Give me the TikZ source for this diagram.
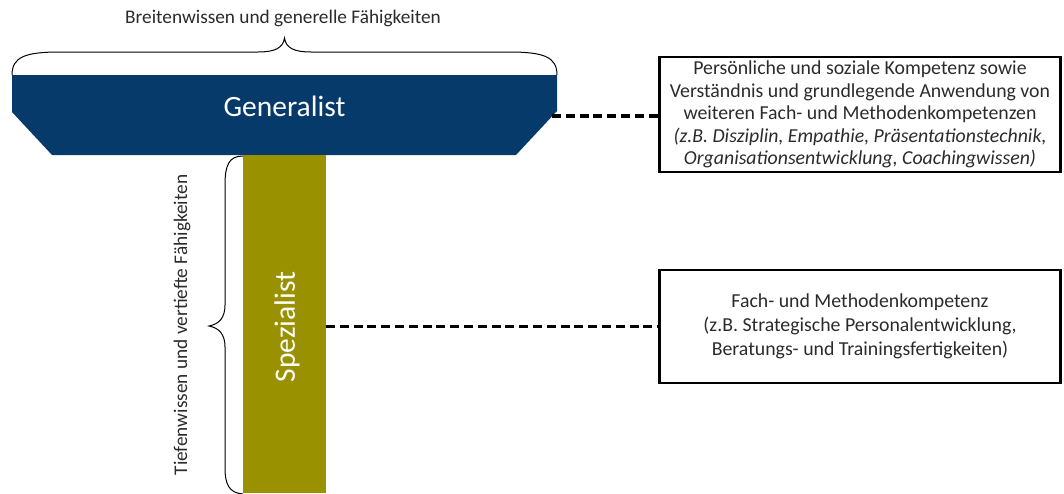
\documentclass[tikz,border=0pt]{standalone}
\usepackage{fontspec}
\setmainfont{Carlito}
\usetikzlibrary{calc}
\definecolor{navy}{HTML}{053A6B}
\definecolor{olive}{HTML}{9A9100}
\definecolor{ink}{HTML}{2B2B2B}
\begin{document}
\begin{tikzpicture}[x=1pt,y=-1pt,
  every node/.style={inner sep=0pt, outer sep=0pt, text=ink},
  label/.style={font=\fontsize{19.3}{23}\selectfont},
  infobox/.style={draw=black, line width=2.4pt, minimum width=401, align=center},
  link/.style={draw=black, line width=3.3pt, dash pattern=on 9pt off 4.8pt},
  bracepath/.style={draw=black, line width=1pt},
  barlabel/.style={text=white, font=\fontsize{29.5}{34}\selectfont}]
\useasboundingbox (0,0) rectangle (1064,493);

% Generalist: bar with bevelled lower corners
\fill[navy] (12,75) -- (557,75) -- (557,111) -- (516,155) -- (52,155) -- (12,112) -- cycle;
\node[barlabel] (gen) at (284.5,106) {Generalist};
\coordinate (genR) at (552,116);

% Spezialist: vertical bar
\node[fill=olive, minimum width=83, minimum height=338, anchor=north] (spez) at (284.5,155) {};
\node[barlabel, rotate=90] (spezlabel) at (287,327) {Spezialist};

% upper brace and its label
\draw[bracepath] (12,75) .. controls (12,57) and (25,52) .. (60,52) -- (258,52)
  .. controls (275,52) and (283,48) .. (284.5,38)
  .. controls (286,48) and (294,52) .. (311,52) -- (509,52)
  .. controls (544,52) and (557,57) .. (557,75);
\node[label] (breite) at (283,18) {Breitenwissen und generelle Fähigkeiten};

% left brace and its label
\draw[bracepath] (243,156) .. controls (229,156) and (225,165) .. (225,185) -- (225,305)
  .. controls (225,318) and (219,324) .. (209,326)
  .. controls (219,328) and (225,334) .. (225,347) -- (225,468)
  .. controls (225,484) and (229,493) .. (243,494);
\node[label, rotate=90] (tiefe) at (182,325) {Tiefenwissen und vertiefte Fähigkeiten};

% description boxes
\node[infobox, minimum height=115, anchor=north west,
      font=\fontsize{19.8}{22.5}\selectfont] (box1) at (659.5,57) {%
  Persönliche und soziale Kompetenz sowie\\
  Verständnis und grundlegende Anwendung von\\
  weiteren Fach- und Methodenkompetenzen\\
  \itshape (z.B. Disziplin, Empathie, Präsentationstechnik,\\
  \itshape Organisationsentwicklung, Coachingwissen)};
\node[infobox, minimum height=113, anchor=north west,
      font=\fontsize{19.8}{24}\selectfont] (box2) at (659.5,270) {%
  Fach- und Methodenkompetenz\\
  (z.B. Strategische Personalentwicklung,\\
  Beratungs- und Trainingsfertigkeiten)};

% dashed connectors
\draw[link] (genR) -- (genR -| box1.west);
\draw[link] (spez.east |- box2.west) -- (box2.west);
\end{tikzpicture}
\end{document}
